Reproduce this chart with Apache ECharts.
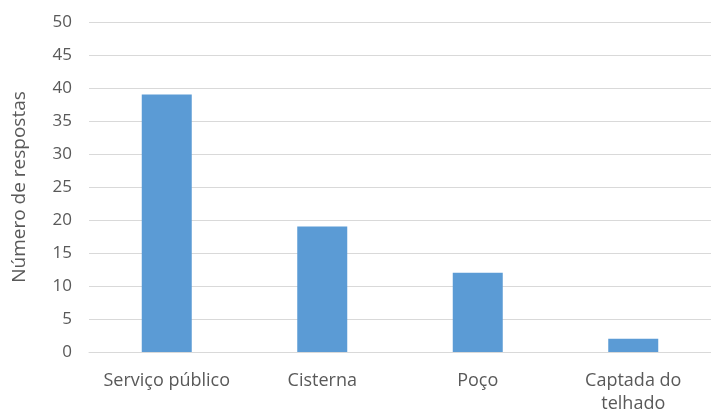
<!DOCTYPE html>
<html><head><meta charset="utf-8">
<script src="https://cdn.jsdelivr.net/npm/echarts@6/dist/echarts.min.js"></script>
<style>html,body{margin:0;padding:0;background:#fff;overflow:hidden}#c{width:711px;height:415px}</style>
</head><body><div id="c"></div>
<script>
const categories = ['Serviço público', 'Cisterna', 'Poço', 'Captada do\ntelhado'];
const values = [39, 19, 12, 2];
const yTicks = { min: 0, max: 50, interval: 5 };
const yName = 'Número de respostas';

const chart = echarts.init(document.getElementById('c'));
chart.setOption({
  animation: false,
  grid: { left: 89, top: 22, width: 630, height: 333, containLabel: false },
  xAxis: {
    type: 'category', data: categories,
    axisTick: { show: false },
    axisLine: { lineStyle: { color: '#D9D9D9', width: 1 } },
    axisLabel: { color: '#595959', fontFamily: 'Open Sans', fontSize: 18, margin: 17, lineHeight: 23, interval: 0 }
  },
  yAxis: {
    type: 'value', min: yTicks.min, max: yTicks.max, interval: yTicks.interval,
    name: yName, nameLocation: 'middle', nameGap: 60, nameRotate: 90,
    nameTextStyle: { color: '#595959', fontFamily: 'Open Sans', fontSize: 19, padding: [0, 0, 0, 0] },
    axisLine: { show: false }, axisTick: { show: false },
    axisLabel: { color: '#595959', fontFamily: 'Open Sans', fontSize: 17, margin: 17 },
    splitLine: { lineStyle: { color: '#D9D9D9', width: 1 } }
  },
  series: [{ type: 'bar', data: values, barWidth: 50, itemStyle: { color: '#5B9BD5' } }]
});
</script></body></html>
